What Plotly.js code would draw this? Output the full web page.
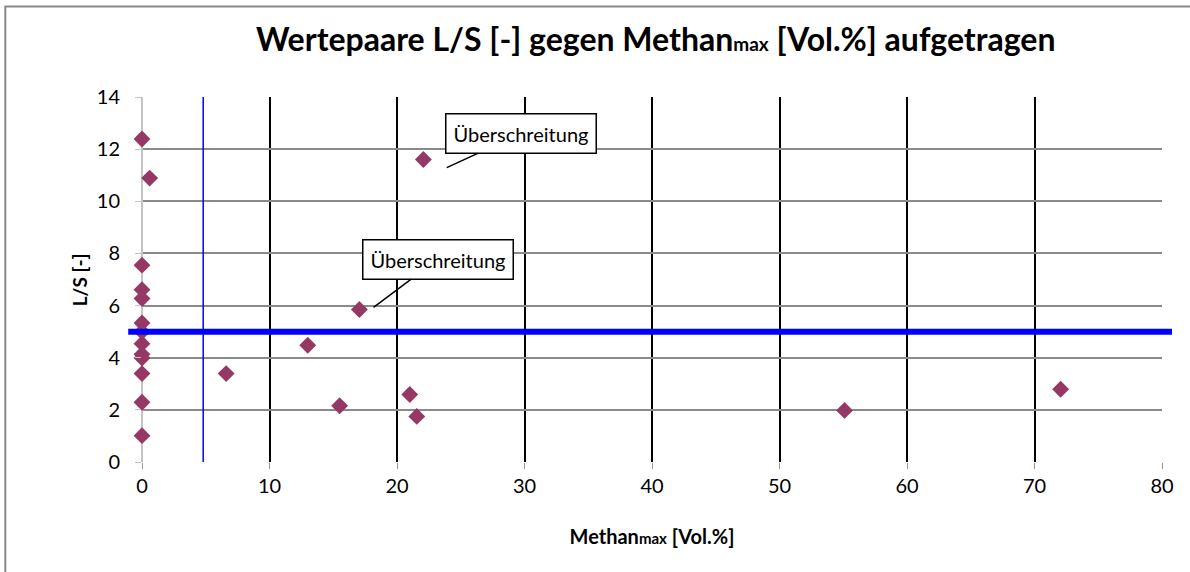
<!DOCTYPE html>
<html>
<head>
<meta charset="utf-8">
<script src="https://cdn.plot.ly/plotly-3.0.1.min.js"></script>
<style>
  html, body { margin: 0; padding: 0; background: #fff; }
  #chart { width: 1190px; height: 572px; }
</style>
</head>
<body>
<div id="chart"></div>
<script>
// Wertepaare Methan_max [Vol.%] / L/S [-]
let methan = [0, 0.6, 0, 0, 0, 0, 0, 0, 0, 0, 0, 0, 0,
              6.6, 13.0, 15.5, 17.05, 21.0, 21.55, 22.07, 55.1, 72.05];
let ls     = [12.39, 10.89, 7.55, 6.61, 6.27, 5.33, 5.0, 4.54, 4.13, 3.99, 3.39, 2.29, 1.01,
              3.39, 4.48, 2.16, 5.85, 2.59, 1.75, 11.6, 1.98, 2.79];

// Grenzwerte
let grenzeLS = 5;        // waagrechte Linie
let grenzeMethan = 4.8;  // senkrechte Linie
let grenzeLinieY = [0, 14];

// Überschreitungen (Spitze der Sprechblase)
let ueberX = [23.9, 18.16];
let ueberY = [11.29, 5.93];
let ueberText = ['Überschreitung', 'Überschreitung'];

let xTicks = [0, 10, 20, 30, 40, 50, 60, 70, 80];
let yTicks = [0, 2, 4, 6, 8, 10, 12, 14];

let fontName = 'Lato, "Open Sans", sans-serif';

let traces = [
    {
        mode: 'lines',
        type: 'scatter',
        x: [grenzeMethan, grenzeMethan],
        y: grenzeLinieY,
        line: {color: '#0000ff', width: 1.5},
        hoverinfo: 'skip',
        showlegend: false
    },
    {
        mode: 'markers',
        type: 'scatter',
        x: methan,
        y: ls,
        marker: {symbol: 'diamond', size: 13, color: '#953864'},
        cliponaxis: false,
        showlegend: false
    }
];

let annotations = [];
for (let i = 0; i < ueberX.length; i++) {
    annotations.push({
        x: ueberX[i],
        y: ueberY[i],
        xref: 'x',
        yref: 'y',
        text: ueberText[i],
        showarrow: true,
        arrowhead: 0,
        arrowwidth: 1.5,
        arrowcolor: '#000',
        ax: i == 0 ? 74 : 64,
        ay: i == 0 ? -34 : -48,
        bgcolor: '#fff',
        bordercolor: '#000',
        borderwidth: 1.5,
        borderpad: 7,
        font: {family: fontName, size: 20, color: '#000'}
    });
}

// y-Achsentitel als Annotation
annotations.push({
    text: 'L/S [-]',
    xref: 'paper', yref: 'paper',
    x: -0.061, y: 0.5,
    xanchor: 'center', yanchor: 'middle',
    textangle: -90,
    showarrow: false,
    font: {family: fontName, size: 19, weight: 'bold', color: '#000'}
});

let layout = {
    width: 1190,
    height: 572,
    margin: {l: 142, r: 28, t: 97, b: 110},
    paper_bgcolor: '#fff',
    plot_bgcolor: '#fff',
    font: {family: fontName, color: '#000'},
    title: {
        text: 'Wertepaare L/S [-] gegen Methan<span style="font-size:19px">max</span> [Vol.%] aufgetragen',
        font: {family: fontName, size: 32, color: '#000', weight: 'bold'},
        xref: 'container', yref: 'container',
        x: 0.551, y: 0.93, xanchor: 'center', yanchor: 'middle'
    },
    xaxis: {
        title: {
            text: 'Methan<span style="font-size:15px">max</span> [Vol.%]',
            font: {family: fontName, size: 20, weight: 'bold'},
            standoff: 33
        },
        range: [0, 80],
        tickvals: xTicks,
        ticks: 'outside',
        ticklen: 6,
        tickcolor: '#9a9a9a',
        tickfont: {family: fontName, size: 20},
        showgrid: true,
        gridcolor: '#000',
        gridwidth: 2,
        zeroline: true,
        zerolinecolor: '#c4c4c4',
        zerolinewidth: 2,
        showline: false,
        fixedrange: true
    },
    yaxis: {
        range: [0, 14],
        tickvals: yTicks,
        ticks: 'outside',
        ticklen: 6,
        tickcolor: '#c4c4c4',
        tickfont: {family: fontName, size: 20},
        ticklabelstandoff: 11,
        showgrid: true,
        gridcolor: '#8a8a8a',
        gridwidth: 2,
        zeroline: false,
        showline: false,
        fixedrange: true
    },
    shapes: [
        {
            type: 'line', xref: 'paper', yref: 'y',
            x0: -0.0135, x1: 1.0098, y0: grenzeLS, y1: grenzeLS,
            line: {color: '#0000ff', width: 6},
            layer: 'above'
        },
        {
            type: 'rect', xref: 'paper', yref: 'paper',
            x0: -0.134, x1: 1.2, y0: -0.5, y1: 1.248,
            line: {color: '#878787', width: 2},
            layer: 'below'
        }
    ],
    annotations: annotations,
    showlegend: false
};

Plotly.newPlot('chart', traces, layout, {displayModeBar: false, staticPlot: true});
</script>
</body>
</html>
